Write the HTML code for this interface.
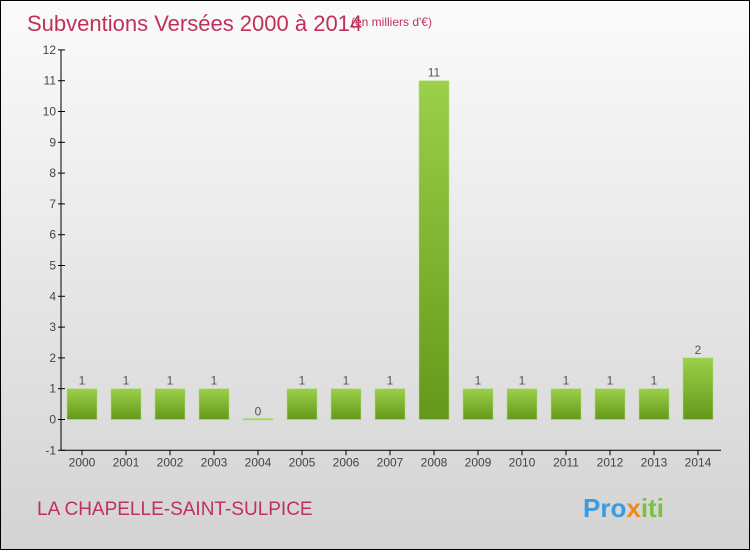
<!DOCTYPE html>
<html><head><meta charset="utf-8"><style>
body{margin:0;width:750px;height:550px;overflow:hidden;font-family:"Liberation Sans",sans-serif}
#wrap{position:relative;width:748px;height:548px;border:1px solid #000;background:linear-gradient(#fbfbfb,#d3d3d3)}
</style></head><body>
<div id="wrap">
<svg id="chart" width="748" height="548">
<defs><linearGradient id="g" x1="0" y1="0" x2="0" y2="1"><stop offset="0" stop-color="#9bd04a"/><stop offset="1" stop-color="#64981a"/></linearGradient></defs>
<text x="26" y="30" font-size="22" fill="#c0305a">Subventions Versées 2000 à 2014</text>
<text x="350" y="25" font-size="12" fill="#c0305a">(en milliers d'€)</text>
<text x="36" y="514" font-size="19" fill="#c0305a">LA CHAPELLE-SAINT-SULPICE</text>
<text x="582" y="516" font-size="26" font-weight="bold" fill="#3a9be0">Pro<tspan fill="#f08a1c">x</tspan><tspan fill="#7ac143">iti</tspan></text>
<g id="plot"></g>
</svg></div>
<script>
const years=["2000","2001","2002","2003","2004","2005","2006","2007","2008","2009","2010","2011","2012","2013","2014"];
const values=[1,1,1,1,0,1,1,1,11,1,1,1,1,1,2];
const yTicks=[-1,0,1,2,3,4,5,6,7,8,9,10,11,12];
const NS="http://www.w3.org/2000/svg";
const g=document.getElementById('plot');
const y=v=>418.5-(v)*30.8;
const x=i=>81+i*44;
function el(t,a,txt){const e=document.createElementNS(NS,t);for(const k in a)e.setAttribute(k,a[k]);if(txt!==undefined)e.textContent=txt;g.appendChild(e);return e;}
const ax=el('line',{x1:60,y1:y(12),x2:60,y2:y(-1),stroke:'#000'});


const xx=el('line',{x1:60,y1:y(-1),x2:720,y2:y(-1),stroke:'#000'});


yTicks.forEach(t=>{
 const l=el('line',{x1:57,y1:y(t),x2:64,y2:y(t),stroke:'#000'});
 
 
 const tx=el('text',{x:55,y:y(t)+4,'font-size':12,fill:'#444','text-anchor':'end'},t);
 
 
});
years.forEach((yr,i)=>{
 const v=values[i];
 const l=el('line',{x1:x(i),y1:y(-1),x2:x(i),y2:y(-1)+5,stroke:'#000'});
 
 
 const t=el('text',{x:x(i),y:y(-1)+16,'font-size':12,fill:'#444','text-anchor':'middle'},yr);
 
 
 const top=y(Math.max(v,0)),h=Math.max(Math.abs(y(0)-y(v)),1.5);
 const r=el('rect',{x:x(i)-15,y:v>0?top:y(0)-1,width:30,height:h,fill:v>0?'url(#g)':'#9bd04a',stroke:'#b5de7a','stroke-width':0.5});
 
 
 const vl=el('text',{x:x(i),y:top-4,'font-size':12,fill:'#555','text-anchor':'middle'},v);
 
 
});
</script>
</body></html>
